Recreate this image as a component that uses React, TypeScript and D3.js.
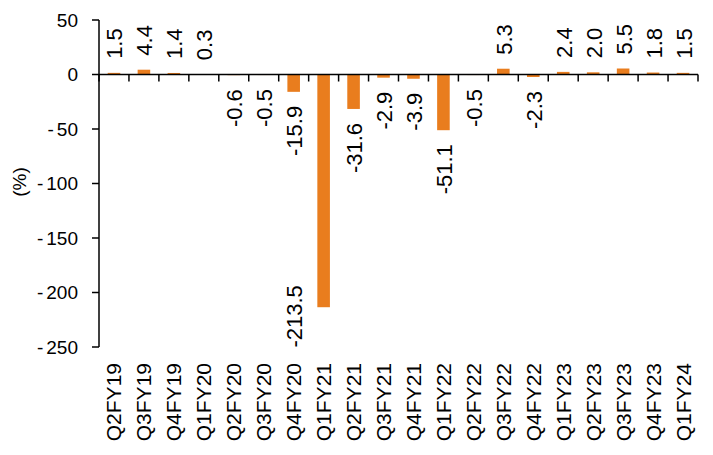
import React from "react";
import * as d3 from "d3";

const categories: string[] = [
  "Q2FY19", "Q3FY19", "Q4FY19", "Q1FY20", "Q2FY20", "Q3FY20", "Q4FY20",
  "Q1FY21", "Q2FY21", "Q3FY21", "Q4FY21", "Q1FY22", "Q2FY22", "Q3FY22",
  "Q4FY22", "Q1FY23", "Q2FY23", "Q3FY23", "Q4FY23", "Q1FY24",
];
const values: number[] = [
  1.5, 4.4, 1.4, 0.3, -0.6, -0.5, -15.9, -213.5, -31.6, -2.9, -3.9, -51.1,
  -0.5, 5.3, -2.3, 2.4, 2.0, 5.5, 1.8, 1.5,
];
const yTicks: number[] = [50, 0, -50, -100, -150, -200, -250];
const yLabel = "(%)";

const W = 713;
const H = 455;
const FONT = "'Liberation Sans', Arial, sans-serif";
const BAR = "#E97D1E";

export default function App() {
  const left = 99;
  const right = 698;
  const x = d3
    .scaleBand<string>()
    .domain(categories)
    .range([left, right])
    .paddingInner(0.58)
    .paddingOuter(0.29);
  const y = d3.scaleLinear().domain([-250, 50]).range([347, 20]);
  const step = x.step();
  const fmt = (v: number) => d3.format(".1f")(v).replace("\u2212", "-");
  const y0 = y(0);

  const boundaries = d3.range(categories.length + 1).map((i) => left + i * step);

  return (
    <svg
      width={W}
      height={H}
      style={{ position: "absolute", left: 0, top: 0, background: "#fff" }}
      fontFamily={FONT}
    >
      {/* bars */}
      {categories.map((c, i) => {
        const v = values[i];
        const yt = y(Math.max(0, v));
        const yb = y(Math.min(0, v));
        return (
          <rect
            key={c}
            x={x(c)}
            y={yt}
            width={x.bandwidth()}
            height={Math.max(0.5, yb - yt)}
            fill={BAR}
          />
        );
      })}

      {/* y axis */}
      <line x1={left} x2={left} y1={y(50)} y2={y(-250)} stroke="#000" strokeWidth={1.5} />
      {yTicks.map((t) => (
        <g key={t}>
          <line x1={left - 7} x2={left} y1={y(t)} y2={y(t)} stroke="#000" strokeWidth={1.5} />
          <text x={78} y={y(t) + 6.8} fontSize={19} textAnchor="end" fill="#000">
            {t < 0 ? (
              <>
                <tspan>-</tspan>
                <tspan dx={3}>{Math.abs(t)}</tspan>
              </>
            ) : (
              String(t)
            )}
          </text>
        </g>
      ))}
      <text
        transform={`translate(26,182) rotate(-90)`}
        fontSize={19}
        textAnchor="middle"
        fill="#000"
      >
        {yLabel}
      </text>

      {/* x axis */}
      <line x1={left} x2={right} y1={y0} y2={y0} stroke="#000" strokeWidth={1.5} />
      {boundaries.map((bx, i) => (
        <line key={i} x1={bx} x2={bx} y1={y0} y2={y0 + 7} stroke="#000" strokeWidth={1.5} />
      ))}
      {categories.map((c) => {
        const cx = (x(c) as number) + x.bandwidth() / 2;
        return (
          <text
            key={c}
            transform={`translate(${cx + 7.5},363) rotate(-90)`}
            fontSize={21}
            textAnchor="end"
            fill="#000"
          >
            {c}
          </text>
        );
      })}

      {/* value labels */}
      {categories.map((c, i) => {
        const v = values[i];
        let cx = (x(c) as number) + x.bandwidth() / 2;
        let ty: number;
        let anchor: "start" | "end";
        if (v >= 0) {
          ty = y(v) - 14;
          anchor = "start";
        } else {
          ty = y(v) + 14;
          anchor = "end";
          // label would run into the category axis: moved beside the bar
          if (ty + 64 > y(-250)) {
            cx -= step;
            ty = y(v) - 22;
          }
        }
        return (
          <text
            key={c}
            transform={`translate(${cx + 8.5},${ty}) rotate(-90)`}
            fontSize={22}
            textAnchor={anchor}
            fill="#000"
          >
            {fmt(v)}
          </text>
        );
      })}
    </svg>
  );
}
